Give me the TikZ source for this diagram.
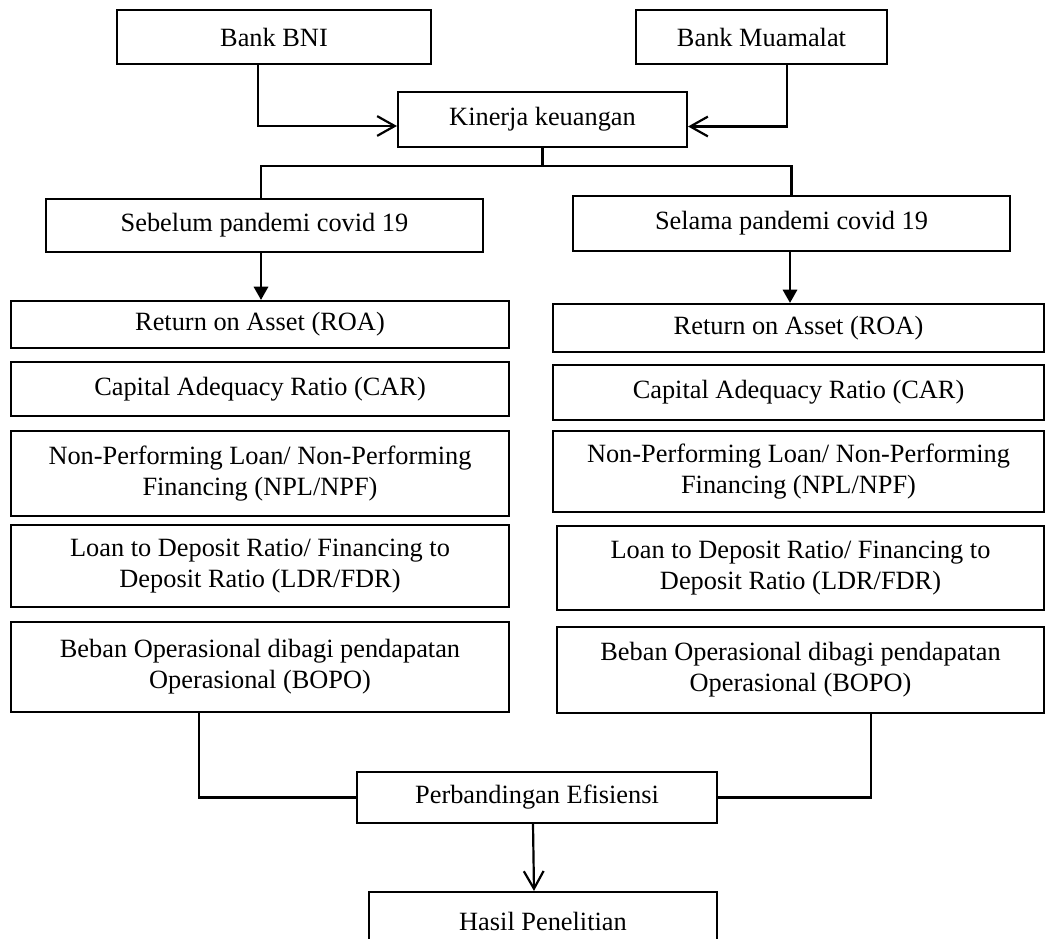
\documentclass[tikz,border=0pt]{standalone}
\usepackage{fontspec}
\setmainfont{Liberation Serif}
\usetikzlibrary{arrows.meta, positioning, calc}

\tikzset{
  box/.style={draw, line width=1pt, rectangle, inner sep=0pt, align=center, font=\fontsize{12}{14}\selectfont},
  link/.style={line width=1pt},
  openarrow/.style={link, -{Straight Barb[length=8pt, width=9pt, line width=1pt]}},
  fillarrow/.style={link, -{Triangle[length=6pt, width=6.5pt]}}
}

\begin{document}
\begin{tikzpicture}[x=0.016cm, y=-0.016cm]
  \path[use as bounding box, clip] (0,0) rectangle (1046,938);

  % Banks
  \node[box, minimum width=5.024cm, minimum height=0.864cm] (bni) at (274, 37) {Bank BNI};
  \node[box, minimum width=4.016cm, minimum height=0.864cm] (muamalat) at (761.5, 37) {Bank Muamalat};
  \node[box, minimum width=4.624cm, minimum height=0.88cm] (kinerja) at (542.5, 119.5) {Kinerja keuangan};

  \draw[openarrow] ($(bni.south)+(-16,0)$) |- ($(kinerja.west)+(0,6.5)$);
  \draw[openarrow] ($(muamalat.south)+(25.5,0)$) |- ($(kinerja.east)+(0,7)$);

  % Periods
  \node[box, minimum width=6.992cm, minimum height=0.848cm] (sebelum) at (264.5, 225.5) {Sebelum pandemi covid 19};
  \node[box, minimum width=6.992cm, minimum height=0.88cm] (selama) at (791.5, 223.5) {Selama pandemi covid 19};

  \coordinate (split) at (542.5, 166);
  \draw[link] (kinerja.south) -- (split);
  \draw[link] (split) -| ($(sebelum.north)+(-3.5,0)$);
  \draw[link] (split) -| (selama.north);

  % Ratios before
  \node[box, minimum width=7.968cm, minimum height=0.752cm] (roaA) at (260, 324.5) {Return on Asset (ROA)};
  \node[box, minimum width=7.968cm, minimum height=0.864cm] (carA) at (260, 389) {Capital Adequacy Ratio (CAR)};
  \node[box, minimum width=7.968cm, minimum height=1.36cm] (nplA) at (260, 473.5) {Non-Performing Loan/ Non-Performing\\Financing (NPL/NPF)};
  \node[box, minimum width=7.968cm, minimum height=1.312cm] (ldrA) at (260, 566) {Loan to Deposit Ratio/ Financing to\\Deposit Ratio (LDR/FDR)};
  \node[box, minimum width=7.968cm, minimum height=1.44cm] (bopoA) at (260, 667) {Beban Operasional dibagi pendapatan\\Operasional (BOPO)};

  % Ratios during
  \node[box, minimum width=7.856cm, minimum height=0.768cm] (roaB) at (798.5, 328) {Return on Asset (ROA)};
  \node[box, minimum width=7.856cm, minimum height=0.88cm] (carB) at (798.5, 392.5) {Capital Adequacy Ratio (CAR)};
  \node[box, minimum width=7.856cm, minimum height=1.296cm] (nplB) at (798.5, 471.5) {Non-Performing Loan/ Non-Performing\\Financing (NPL/NPF)};
  \node[box, minimum width=7.792cm, minimum height=1.344cm] (ldrB) at (800.5, 568) {Loan to Deposit Ratio/ Financing to\\Deposit Ratio (LDR/FDR)};
  \node[box, minimum width=7.792cm, minimum height=1.376cm] (bopoB) at (800.5, 670) {Beban Operasional dibagi pendapatan\\Operasional (BOPO)};

  \draw[fillarrow] ($(sebelum.south)+(-3.5,0)$) -- ($(sebelum.south |- roaA.north)+(-3.5,0)$);
  \draw[fillarrow] ($(selama.south)+(-1.5,0)$) -- ($(selama.south |- roaB.north)+(-1.5,0)$);

  % Comparison
  \node[box, minimum width=5.76cm, minimum height=0.816cm] (banding) at (537, 797.5) {Perbandingan Efisiensi};
  \node[box, minimum width=5.568cm, minimum height=0.928cm] (hasil) at (543, 921) {Hasil Penelitian};

  \draw[link] ($(bopoA.south)+(-61,0)$) |- (banding.west);
  \draw[link] ($(bopoB.south)+(70.5,0)$) |- (banding.east);
  \draw[openarrow] ($(banding.south)+(-4,0)$) -- ($(banding.south |- hasil.north)+(-3,0)$);
\end{tikzpicture}
\end{document}
